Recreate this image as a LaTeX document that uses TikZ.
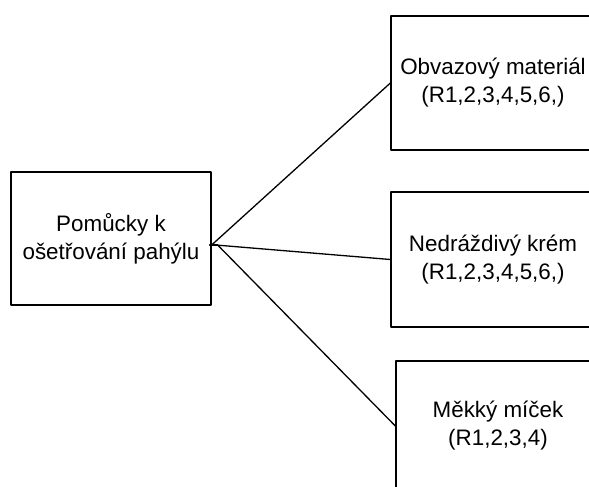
\documentclass[tikz,border=0pt]{standalone}
\usepackage{fontspec}
\setmainfont{Liberation Sans}
\usetikzlibrary{positioning}

\begin{document}
\begin{tikzpicture}[x=1pt,y=-1pt,line cap=round,line join=round,
  itembox/.style={draw,line width=1.3pt,align=center,inner sep=0pt,
    font=\fontsize{22.4}{28}\selectfont},
  link/.style={line width=1.3pt}]
  \clip (0,0) rectangle (589,487);
  % main box and the item boxes, cut off by the right edge
  \node[itembox,minimum width=200pt,minimum height=133pt] (aids) at (111,238.5)
    {Pomůcky k\\ošetřování pahýlu};
  \node[itembox,minimum width=204pt,minimum height=134pt] (band) at (493,83)
    {Obvazový materiál\\(R1,2,3,4,5,6,)};
  \node[itembox,minimum width=204pt,minimum height=135pt] (cream) at (493,259.5)
    {Nedráždivý krém\\(R1,2,3,4,5,6,)};
  \node[itembox,minimum width=204pt,minimum height=130pt] (ball) at (498,426)
    {Měkký míček\\(R1,2,3,4)};
  \coordinate (hub) at ([yshift=-6.5pt]aids.east);
  \draw[link] ([xshift=-2pt]hub) -- ([xshift=6pt]hub);
  \draw[link] (hub) -- (band.west);
  \draw[link] ([xshift=4pt]hub) -- (cream.west);
  \draw[link] ([xshift=6pt]hub) -- (ball.west);
\end{tikzpicture}
\end{document}
